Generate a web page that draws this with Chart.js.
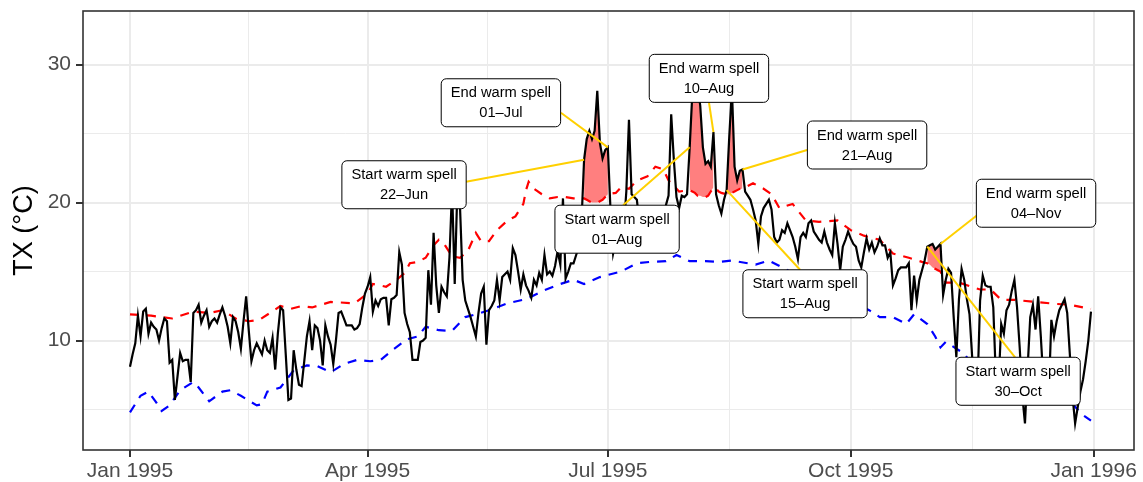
<!DOCTYPE html>
<html><head><meta charset="utf-8">
<script src="https://cdn.jsdelivr.net/npm/chart.js@4.4.1/dist/chart.umd.min.js"></script>
<style>html,body{margin:0;padding:0;background:#fff;}#wrap{width:1143px;height:482px;}</style>
</head><body><div id="wrap"><canvas id="c" width="1143" height="482"></canvas></div>
<script>
// Daily maximum temperature (TX, °C), day 0 = 1 Jan 1995 ... day 364 = 31 Dec 1995
const txValues = [
8.1,9.0,9.8,11.8,10.3,12.1,12.3,10.5,11.3,11.0,
10.8,10.0,10.9,11.6,11.4,8.4,8.6,5.7,7.4,9.1,
8.5,8.6,8.6,7.0,12.0,12.2,12.6,11.3,11.8,12.2,
11.0,11.4,11.6,11.3,11.9,12.4,11.8,11.0,9.8,11.7,
11.4,10.6,9.4,11.4,13.2,10.7,8.5,9.3,9.8,9.4,
9.0,10.0,9.3,9.1,10.2,7.9,10.5,12.4,12.2,9.0,
5.7,5.8,9.3,7.9,6.8,6.7,8.5,10.3,11.4,9.3,
11.1,10.9,10.0,8.2,11.1,10.3,9.7,8.3,10.0,12.0,
12.1,11.6,11.1,11.1,11.1,10.8,10.9,11.2,12.4,13.4,
13.9,14.6,12.1,12.9,12.5,13.0,13.1,13.1,11.1,13.0,
13.1,13.3,16.4,15.5,12.0,11.2,10.6,8.6,8.6,8.6,
9.9,10.0,10.2,15.1,12.6,17.8,14.0,12.0,13.9,13.5,
13.2,16.0,21.0,14.1,21.0,19.7,14.4,12.9,12.3,11.7,
11.0,10.3,12.0,13.4,13.9,9.7,12.2,12.5,12.9,14.4,
12.9,14.6,14.8,15.0,14.4,16.7,16.2,15.0,13.7,14.8,
14.0,13.6,13.1,14.4,14.0,14.9,14.4,16.2,14.8,15.0,
14.7,15.4,16.5,15.5,20.3,14.5,15.0,15.6,15.6,16.2,
16.8,18.5,23.1,24.6,25.2,24.6,25.2,28.1,24.3,23.2,
23.8,24.0,19.5,16.3,17.2,18.6,19.4,18.0,20.8,26.0,
20.6,20.4,20.2,18.4,19.0,17.6,18.3,19.1,18.0,17.5,
18.6,19.3,18.1,19.8,20.5,26.4,23.1,20.4,19.6,20.5,
20.4,20.6,24.0,27.9,29.0,28.6,27.0,24.0,22.8,23.0,
22.6,25.1,20.6,19.8,19.2,20.2,20.9,24.8,28.2,22.6,
21.6,22.3,22.4,20.8,20.5,20.2,19.5,18.7,17.0,19.0,
19.6,19.9,20.2,19.5,17.5,17.1,17.3,18.0,17.8,18.5,
18.0,17.5,16.8,15.9,17.5,17.8,17.5,18.5,18.7,17.9,
17.6,17.3,17.1,17.9,17.1,16.6,16.2,18.5,17.0,15.1,
16.8,17.3,17.9,17.4,17.0,16.8,15.8,15.3,16.4,17.4,
16.6,17.1,16.4,16.8,17.4,16.9,16.9,16.0,16.4,14.0,
14.5,15.1,15.3,15.3,15.3,15.6,12.2,14.7,12.9,14.4,
15.1,15.8,16.8,16.9,17.0,16.6,16.8,17.0,13.3,14.4,
15.2,14.9,11.7,8.8,13.0,15.2,14.4,13.0,11.9,8.8,
5.8,6.5,12.9,14.7,14.0,13.9,13.9,12.4,7.2,6.8,
11.2,10.5,12.2,12.6,13.6,14.4,12.4,9.5,6.0,4.0,
8.0,11.7,12.6,10.8,13.2,10.3,7.0,6.5,6.0,11.5,
10.3,11.4,12.2,12.6,13.0,12.0,9.0,6.0,4.0,5.2,
6.3,7.2,8.5,10.0,12.1
];

// Upper threshold (red dashed), read at these days
const upperDays = [0,8,16,24,30,35,40,45,49,53,57,61,65,69,76,85,90,92,97,101,104,106,109,112,115,117,119,122,125,128,131,133,136,139,143,146,149,150,151,153,156,159,162,165,168,
172,173,174,175,176,177,178,179,180,181,184,186,189,192,196,199,202,204,208,
212,213,214,215,216,217,218,219,220,221,222,223,224,225,
226,227,228,229,230,231,232,236,240,243,246,251,256,261,268,273,278,284,289,295,300,
302,303,304,305,306,307,309,314,322,326,330,335,343,351,356,361,364];
const upperValues = [11.9,11.8,11.6,12.1,12.0,12.2,11.6,11.4,11.5,12.0,12.5,12.3,12.5,12.4,12.8,12.7,13.4,14.1,13.9,14.4,14.9,15.6,15.7,16.0,16.9,17.3,17.0,16.1,16.0,16.5,17.8,17.2,17.2,18.0,18.7,19.0,19.9,20.9,21.5,21.0,20.6,20.3,20.4,20.4,20.3,
20.3,20.2,20.1,20.0,20.0,20.0,20.1,20.2,20.4,20.6,20.7,21.1,21.0,21.6,21.9,22.6,22.4,21.6,20.8,
20.9,20.8,20.7,20.5,20.5,20.4,20.4,20.5,20.8,21.1,21.0,20.8,20.7,20.65,
20.6,20.6,20.7,20.8,20.9,21.0,21.0,21.4,21.0,20.6,19.6,19.9,18.7,18.6,18.7,18.0,17.6,17.3,16.3,16.0,15.7,
15.6,15.5,15.3,15.2,15.1,15.0,14.2,14.2,13.7,13.7,12.95,12.95,12.8,12.65,12.6,12.4,12.3];

// Lower threshold (blue dashed), read at these days
const lowerDays = [0,4,7,10,12,15,19,24,26,30,35,38,42,48,50,52,57,62,67,71,76,81,86,91,95,100,105,109,112,117,122,127,131,136,143,150,157,163,168,172,178,186,192,197,203,207,212,218,223,228,234,237,242,250,258,265,272,280,284,289,294,297,302,305,307,309,316,320,330,340,350,357,361,364];
const lowerValues = [4.8,6.0,6.3,5.5,4.9,5.3,6.4,7.0,6.6,5.6,6.3,6.4,6.0,5.3,5.4,6.3,6.6,7.85,8.2,8.15,7.7,8.3,8.6,8.5,8.6,9.4,10.1,10.3,11.0,10.75,10.7,11.7,11.9,12.2,12.7,13.0,13.65,14.1,14.4,14.1,14.6,15.0,15.6,15.7,15.75,16.2,15.75,15.75,15.7,15.8,15.6,15.5,15.8,15.0,14.2,13.5,12.9,12.2,11.7,11.7,11.2,11.9,11.2,10.3,9.5,9.9,9.05,8.0,7.0,6.3,5.8,5.4,4.6,4.2];

// Warm spells (day numbers)
const spellStartDays = [172, 212, 226, 302];
const spellEndDays   = [181, 221, 232, 307];

// Annotation texts and the day each one points at
const labelKinds = ['End warm spell','Start warm spell','Start warm spell','End warm spell','Start warm spell','End warm spell','End warm spell','Start warm spell'];
const labelDates = ['01–Jul','22–Jun','01–Aug','10–Aug','15–Aug','21–Aug','04–Nov','30–Oct'];
const labelDays  = [181, 172, 212, 221, 226, 232, 307, 302];

// Axis ticks
const xTickDays = [0, 90, 181, 273, 365];
const xTickLabels = ['Jan 1995','Apr 1995','Jul 1995','Oct 1995','Jan 1996'];
const xMinorDays = [45, 135.5, 227, 319];
const yTickValues = [10, 20, 30];
const yMinorValues = [5, 15, 25];

// ---- layout / style (not data) ----
const labelLayout = [
  {cx:140.5, cy:27.23, ax:60, ay:10},
  {cx:103.8, cy:21.29, ax:62, ay:-3},
  {cx:184.5, cy:18.07, ax:6, ay:-24},
  {cx:219.3, cy:29.0, ax:0, ay:24},
  {cx:255.7, cy:13.39, ax:-5, ay:-24},
  {cx:279.2, cy:24.17, ax:-60, ay:5},
  {cx:343.2, cy:19.95, ax:-59, ay:12},
  {cx:336.4, cy:7.05, ax:-3, ay:-24}
];
const FONT = "'Liberation Sans', Arial, Helvetica, sans-serif";
Chart.defaults.font.family = FONT;

const txPoints = txValues.map((v, i) => ({x: i, y: v}));
const upperPoints = upperDays.map((d, i) => ({x: d, y: upperValues[i]}));
const lowerPoints = lowerDays.map((d, i) => ({x: d, y: lowerValues[i]}));

const datasets = [
  {data: txPoints, borderColor: '#000', borderWidth: 2.2, pointRadius: 0, tension: 0, fill: false},
  {data: upperPoints, borderColor: '#FF0000', borderWidth: 2.2, borderDash: [9, 8], pointRadius: 0, fill: false},
  {data: lowerPoints, borderColor: '#0000FF', borderWidth: 2.2, borderDash: [9, 8], pointRadius: 0, fill: false}
];
spellStartDays.forEach((s, k) => {
  const e = spellEndDays[k];
  const top = [], base = [];
  for (let d = s; d <= e; d++) {
    top.push({x: d, y: txValues[d]});
    base.push({x: d, y: upperValues[upperDays.indexOf(d)]});
  }
  datasets.push({data: top, borderWidth: 0, borderColor: 'rgba(0,0,0,0)', pointRadius: 0,
    backgroundColor: 'rgba(255,0,0,0.5)', fill: '+1'});
  datasets.push({data: base, borderWidth: 0, borderColor: 'rgba(0,0,0,0)', pointRadius: 0, fill: false});
});

const xMajor = new Set(xTickDays), yMajor = new Set(yTickValues);

const overlay = {
  id: 'overlay',
  afterDatasetsDraw(chart) {
    const ctx = chart.ctx, a = chart.chartArea, xs = chart.scales.x, ys = chart.scales.y;
    ctx.save();
    ctx.strokeStyle = '#333333'; ctx.lineWidth = 1.6;
    ctx.strokeRect(a.left, a.top, a.right - a.left, a.bottom - a.top);
    ctx.font = '14.7px ' + FONT;
    labelDays.forEach((d, i) => {
      const L = labelLayout[i];
      const px = xs.getPixelForValue(d), py = ys.getPixelForValue(txValues[d]);
      const cx = xs.getPixelForValue(L.cx), cy = ys.getPixelForValue(L.cy);
      ctx.strokeStyle = '#FFD000'; ctx.lineWidth = 2;
      ctx.beginPath(); ctx.moveTo(px, py); ctx.lineTo(cx + L.ax, cy + L.ay); ctx.stroke();
    });
    labelDays.forEach((d, i) => {
      const L = labelLayout[i];
      const cx = xs.getPixelForValue(L.cx), cy = ys.getPixelForValue(L.cy);
      const w = Math.max(ctx.measureText(labelKinds[i]).width, ctx.measureText(labelDates[i]).width) + 19;
      const h = 48;
      ctx.beginPath();
      ctx.roundRect(cx - w / 2, cy - h / 2, w, h, 5);
      ctx.fillStyle = '#fff'; ctx.fill();
      ctx.strokeStyle = '#000'; ctx.lineWidth = 1; ctx.stroke();
      ctx.fillStyle = '#000'; ctx.textAlign = 'center'; ctx.textBaseline = 'middle';
      ctx.fillText(labelKinds[i], cx, cy - 9.5);
      ctx.fillText(labelDates[i], cx, cy + 10.5);
    });
    ctx.restore();
  }
};

function zeroPad(s) { s.paddingTop = 0; s.paddingBottom = 0; s.paddingLeft = 0; s.paddingRight = 0; }

new Chart(document.getElementById('c'), {
  type: 'line',
  data: {datasets},
  options: {
    responsive: false, animation: false, devicePixelRatio: 1,
    layout: {padding: {top: 11, right: 9, left: 0, bottom: 0}},
    plugins: {legend: {display: false}, tooltip: {enabled: false}},
    scales: {
      x: {
        type: 'linear', min: -17.8, max: 380.3,
        afterBuildTicks: s => { s.ticks = xTickDays.concat(xMinorDays).sort((p, q) => p - q).map(v => ({value: v})); },
        afterFit: s => { s.height = 32; zeroPad(s); },
        ticks: {autoSkip: false, maxRotation: 0, minRotation: 0, padding: 2, color: '#4D4D4D', font: {size: 21},
          callback: v => { const i = xTickDays.indexOf(v); return i >= 0 ? xTickLabels[i] : ''; }},
        grid: {color: '#EBEBEB', lineWidth: c => xMajor.has(c.tick && c.tick.value) ? 2 : 1,
          tickColor: c => xMajor.has(c.tick && c.tick.value) ? '#333333' : 'rgba(0,0,0,0)',
          tickLength: 7, tickWidth: 2},
        border: {display: false}
      },
      y: {
        type: 'linear', min: 2.07, max: 33.88,
        afterBuildTicks: s => { s.ticks = yMinorValues.concat(yTickValues).sort((p, q) => p - q).map(v => ({value: v})); },
        afterFit: s => { s.width = 83; zeroPad(s); },
        ticks: {padding: 5, color: '#4D4D4D', font: {size: 21},
          callback: v => yMajor.has(v) ? String(v) : ''},
        grid: {color: '#EBEBEB', lineWidth: c => yMajor.has(c.tick && c.tick.value) ? 2 : 1,
          tickColor: c => yMajor.has(c.tick && c.tick.value) ? '#333333' : 'rgba(0,0,0,0)',
          tickLength: 7, tickWidth: 2},
        border: {display: false},
        title: {display: true, text: 'TX (°C)', color: '#000', font: {size: 27, lineHeight: 1}, padding: {top: 11, bottom: 0}}
      }
    }
  },
  plugins: [overlay]
});
</script>
</body></html>
